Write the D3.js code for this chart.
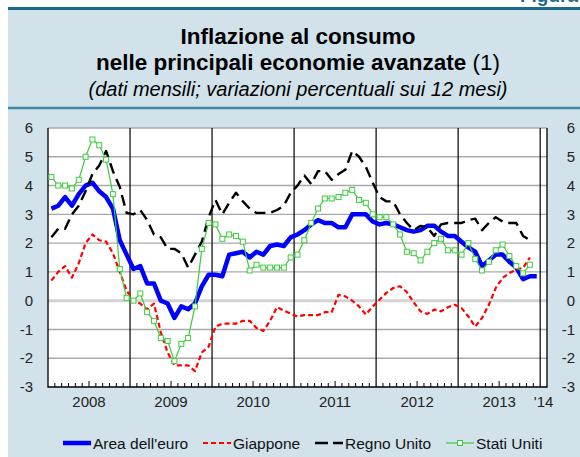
<!DOCTYPE html>
<html>
<head>
<meta charset="utf-8">
<script src="https://cdn.jsdelivr.net/npm/d3@7/dist/d3.min.js"></script>
<style>
  body { margin: 0; background: #fff; }
  svg { display: block; font-family: "Liberation Sans", Arial, Helvetica, sans-serif; }
</style>
</head>
<body>
<svg id="chart" width="580" height="457"></svg>
<script>
// monthly data, Jan 2008 onwards (12-month % change)
const yearLabels = ['2008', '2009', '2010', '2011', '2012', '2013', "'14"];
const yTicks = [-3, -2, -1, 0, 1, 2, 3, 4, 5, 6];

const areaEuro = [
  3.2, 3.3, 3.6, 3.3, 3.7, 4.0, 4.1, 3.8, 3.6, 3.2, 2.1, 1.6,
  1.1, 1.2, 0.6, 0.6, 0.0, -0.1, -0.6, -0.2, -0.3, -0.1, 0.5, 0.9,
  0.9, 0.85, 1.6, 1.65, 1.7, 1.5, 1.7, 1.6, 1.9, 1.95, 1.9, 2.2,
  2.3, 2.45, 2.65, 2.8, 2.7, 2.7, 2.55, 2.55, 3.0, 3.0, 3.0, 2.75,
  2.65, 2.7, 2.65, 2.55, 2.45, 2.4, 2.45, 2.6, 2.6, 2.4, 2.25, 2.25,
  2.05, 1.85, 1.7, 1.2, 1.4, 1.6, 1.6, 1.35, 1.15, 0.75, 0.85, 0.85
];
const giappone = [
  0.7, 1.0, 1.2, 0.8, 1.3, 2.0, 2.3, 2.1, 2.05, 1.65, 1.0, 0.35,
  0.0, -0.1, -0.3, -0.1, -1.1, -1.8, -2.25, -2.25, -2.25, -2.45, -1.8, -1.6,
  -0.9, -0.8, -0.8, -0.8, -0.7, -0.7, -0.95, -1.05, -0.7, -0.22, -0.35, -0.45,
  -0.55, -0.5, -0.5, -0.5, -0.4, -0.4, 0.2, 0.15, 0.0, -0.2, -0.48, -0.2,
  0.03, 0.27, 0.44, 0.5, 0.3, -0.06, -0.37, -0.46, -0.31, -0.37, -0.23, -0.14,
  -0.26, -0.55, -0.9, -0.6, -0.14, 0.44, 0.79, 0.96, 1.08, 1.14, 1.5
];
const regnoUnito = [
  2.2, 2.5, 2.5, 3.0, 3.3, 3.8, 4.4, 4.7, 5.2, 4.5, 3.95, 3.05,
  3.0, 3.15, 2.8, 2.3, 2.2, 1.8, 1.8, 1.65, 1.15, 1.6, 2.05, 2.9,
  3.5, 3.0, 3.4, 3.75, 3.45, 3.2, 3.05, 3.05, 3.05, 3.15, 3.3, 3.75,
  4.0, 4.35, 4.05, 4.5, 4.5, 4.2, 4.4, 4.55, 5.2, 5.0, 4.65, 4.1,
  3.6, 3.45, 3.45, 3.0, 2.7, 2.45, 2.6, 2.55, 2.25, 2.65, 2.7, 2.7,
  2.7, 2.8, 2.85, 2.45, 2.7, 2.9, 2.75, 2.7, 2.7, 2.25, 2.1
];
const statiUniti = [
  4.3, 4.0, 4.0, 3.9, 4.2, 5.0, 5.6, 5.4, 4.9, 3.7, 1.1, 0.1,
  0.0, 0.25, -0.4, -0.7, -1.3, -1.4, -2.1, -1.5, -1.3, -0.2, 1.8, 2.7,
  2.65, 2.15, 2.3, 2.25, 2.05, 1.05, 1.25, 1.15, 1.15, 1.15, 1.15, 1.5,
  1.6, 2.1, 2.7, 3.2, 3.55, 3.55, 3.6, 3.75, 3.85, 3.5, 3.4, 3.0,
  2.9, 2.9, 2.65, 2.3, 1.7, 1.65, 1.4, 1.7, 2.0, 2.15, 1.75, 1.75,
  1.6, 2.0, 1.45, 1.05, 1.35, 1.75, 1.95, 1.55, 1.2, 0.95, 1.25
];

const series = [
  { name: 'Area dell\'euro', values: areaEuro, color: '#0000ff', width: 4.5, dash: null, marker: false, lx: 63 },
  { name: 'Giappone', values: giappone, color: '#ff0000', width: 2.2, dash: '5,3', marker: false, lx: 203 },
  { name: 'Regno Unito', values: regnoUnito, color: '#000000', width: 2.4, dash: '11,6', marker: false, lx: 315 },
  { name: 'Stati Uniti', values: statiUniti, color: '#3ccc3c', width: 1.2, dash: null, marker: true, lx: 446 }
];

const PLOT = { left: 48, right: 547, top: 128, bottom: 387 };
const N_MONTHS = 73;

const svg = d3.select('#chart');

// background panel
svg.append('rect').attr('x', 8).attr('y', 8).attr('width', 572).attr('height', 449).attr('fill', '#d1e2eb');
svg.append('line').attr('x1', 8).attr('x2', 580).attr('y1', 8.5).attr('y2', 8.5)
  .attr('stroke', '#1b6a8c').attr('stroke-width', 3);
svg.append('line').attr('x1', 8).attr('x2', 580).attr('y1', 108).attr('y2', 108)
  .attr('stroke', '#3f87a6').attr('stroke-width', 2.5);
svg.append('text').attr('x', 578).attr('y', 2).attr('text-anchor', 'end')
  .attr('font-size', 19).attr('font-weight', 'bold').attr('fill', '#1b6a8c').text('Figura');

// titles
const cx = 298;
svg.append('text').attr('x', cx).attr('y', 44).attr('text-anchor', 'middle')
  .attr('font-size', 22.5).attr('font-weight', 'bold').text('Inflazione al consumo');
const t2 = svg.append('text').attr('x', cx).attr('y', 70).attr('text-anchor', 'middle').attr('font-size', 22.5);
t2.append('tspan').attr('font-weight', 'bold').text('nelle principali economie avanzate ');
t2.append('tspan').text('(1)');
svg.append('text').attr('x', cx).attr('y', 96).attr('text-anchor', 'middle')
  .attr('font-size', 20).attr('font-style', 'italic').text('(dati mensili; variazioni percentuali sui 12 mesi)');

// scales
const x = d3.scaleLinear().domain([0, N_MONTHS]).range([PLOT.left, PLOT.right]);
const y = d3.scaleLinear().domain([-3, 6]).range([PLOT.bottom, PLOT.top]);

svg.append('rect').attr('x', PLOT.left).attr('y', PLOT.top)
  .attr('width', PLOT.right - PLOT.left).attr('height', PLOT.bottom - PLOT.top).attr('fill', '#fff');

// gridlines
svg.append('g').selectAll('line').data(yTicks.filter(d => d !== 0 && d !== -3)).join('line')
  .attr('x1', PLOT.left).attr('x2', PLOT.right)
  .attr('y1', d => y(d)).attr('y2', d => y(d))
  .attr('stroke', '#a9a9a9').attr('stroke-width', 1.4);
svg.append('line').attr('x1', PLOT.left).attr('x2', PLOT.right)
  .attr('y1', y(0)).attr('y2', y(0)).attr('stroke', '#d3d3d3').attr('stroke-width', 3);

// year separators
svg.append('g').selectAll('line').data(d3.range(12, N_MONTHS, 12)).join('line')
  .attr('x1', d => x(d)).attr('x2', d => x(d))
  .attr('y1', PLOT.top).attr('y2', PLOT.bottom)
  .attr('stroke', '#000').attr('stroke-width', 1.2);

// month ticks
svg.append('g').selectAll('line').data(d3.range(1, N_MONTHS).filter(d => d % 12 !== 0)).join('line')
  .attr('x1', d => x(d)).attr('x2', d => x(d))
  .attr('y1', PLOT.bottom).attr('y2', d => PLOT.bottom - (d % 12 === 6 ? 6 : 4))
  .attr('stroke', '#000').attr('stroke-width', 1);

// axis frame
svg.append('path')
  .attr('d', `M${PLOT.left},${PLOT.top}V${PLOT.bottom}H${PLOT.right}V${PLOT.top}`)
  .attr('fill', 'none').attr('stroke', '#000').attr('stroke-width', 1.3);

// y labels left and right
const yl = svg.append('g').attr('font-size', 15).attr('fill', '#222');
yl.selectAll('text.l').data(yTicks).join('text').attr('class', 'l')
  .attr('x', 33).attr('y', d => y(d)).attr('dy', '0.35em').attr('text-anchor', 'end').text(d => d);
yl.selectAll('text.r').data(yTicks).join('text').attr('class', 'r')
  .attr('x', 575).attr('y', d => y(d)).attr('dy', '0.35em').attr('text-anchor', 'end').text(d => d);

// x labels at year centre
svg.append('g').attr('font-size', 15).attr('fill', '#222')
  .selectAll('text').data(yearLabels).join('text')
  .attr('x', (d, i) => i < 6 ? x(i * 12 + 6) : x(72.5))
  .attr('y', 407).attr('text-anchor', 'middle').text(d => d);

// series
const line = d3.line().x((d, i) => x(i + 0.5)).y(d => y(d));
series.forEach(s => {
  svg.append('path').datum(s.values)
    .attr('d', line).attr('fill', 'none')
    .attr('stroke', s.color).attr('stroke-width', s.width)
    .attr('stroke-linejoin', 'round')
    .attr('stroke-dasharray', s.dash);
  if (s.marker) {
    svg.append('g').selectAll('rect').data(s.values).join('rect')
      .attr('x', (d, i) => x(i + 0.5) - 2.5).attr('y', d => y(d) - 2.5)
      .attr('width', 5).attr('height', 5)
      .attr('fill', '#fff').attr('stroke', s.color).attr('stroke-width', 1);
  }
});

// legend
const LEG_Y = 443;
const legend = svg.append('g').attr('font-size', 15.5).attr('fill', '#111');
series.forEach(s => {
  legend.append('line').attr('x1', s.lx).attr('x2', s.lx + 28).attr('y1', LEG_Y).attr('y2', LEG_Y)
    .attr('stroke', s.color).attr('stroke-width', s.width)
    .attr('stroke-dasharray', s.name === 'Regno Unito' ? '13,5' : s.dash);
  if (s.marker) {
    legend.append('rect').attr('x', s.lx + 11.5).attr('y', LEG_Y - 2.5).attr('width', 5).attr('height', 5)
      .attr('fill', '#fff').attr('stroke', s.color);
  }
  legend.append('text').attr('x', s.lx + 30).attr('y', LEG_Y + 5.5).text(s.name);
});
</script>
</body>
</html>
